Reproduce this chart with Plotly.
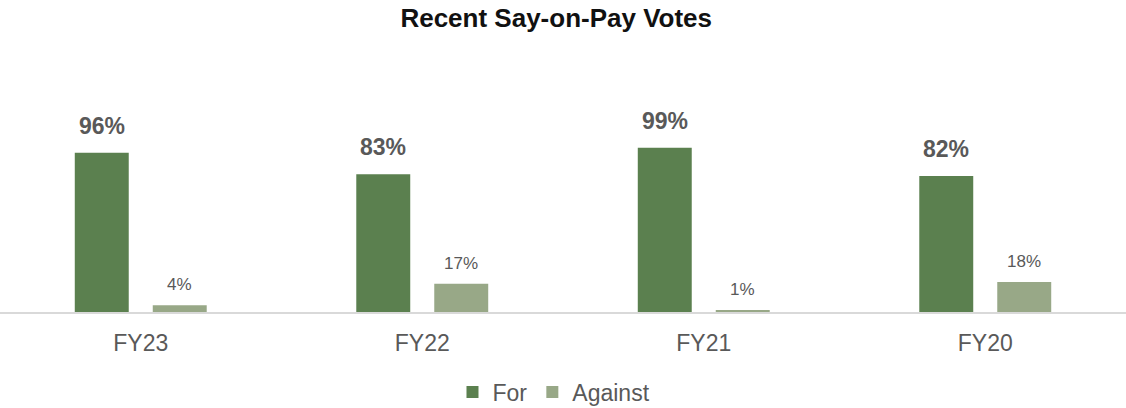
import plotly.graph_objects as go

categories = ["FY23", "FY22", "FY21", "FY20"]
for_votes = [96, 83, 99, 82]
against_votes = [4, 17, 1, 18]
for_labels = ["96%", "83%", "99%", "82%"]
against_labels = ["4%", "17%", "1%", "18%"]

FOR_COLOR = "#5B804F"
AGAINST_COLOR = "#98A887"
GREY = "#595959"
FONT = "Liberation Sans, Arial"

fig = go.Figure()
fig.add_trace(go.Bar(name="For", x=categories, y=for_votes, marker_color=FOR_COLOR,
                     marker_line_width=0))
fig.add_trace(go.Bar(name="Against", x=categories, y=against_votes, marker_color=AGAINST_COLOR,
                     marker_line_width=0))

annotations = []
for c, v, t in zip(categories, for_votes, for_labels):
    annotations.append(dict(x=c, y=v, text=f"<b>{t}</b>", xref="x", yref="y", showarrow=False,
                            xshift=-39, yshift=12, yanchor="bottom",
                            font=dict(size=23, color=GREY, family=FONT)))
for c, v, t in zip(categories, against_votes, against_labels):
    annotations.append(dict(x=c, y=v, text=t, xref="x", yref="y", showarrow=False,
                            xshift=39, yshift=9, yanchor="bottom",
                            font=dict(size=17, color=GREY, family=FONT)))

fig.update_layout(
    width=1126, height=408,
    margin=dict(l=0, r=0, t=50, b=96, autoexpand=False),
    paper_bgcolor="white", plot_bgcolor="white",
    barmode="group", bargap=0.446, bargroupgap=0.308,
    title=dict(text="<b>Recent Say-on-Pay Votes</b>", x=0.494, xanchor="center",
               y=1 - 18 / 408, yanchor="middle",
               font=dict(size=26, color="#111111", family=FONT)),
    font=dict(family=FONT, color=GREY),
    legend=dict(orientation="h", yref="container", y=1 - 392 / 408, yanchor="middle",
                x=0.492, xanchor="center", font=dict(size=23, color=GREY, family=FONT),
                itemwidth=30, traceorder="normal", tracegroupgap=0),
    annotations=annotations,
    showlegend=True,
)
fig.update_xaxes(showline=True, linecolor="#d9d9d9", linewidth=2, ticks="",
                 tickfont=dict(size=23, color=GREY, family=FONT), ticklabelstandoff=9,
                 showgrid=False, zeroline=False)
fig.update_yaxes(range=[0, 262 / 1.66], visible=False, showgrid=False, zeroline=False)

fig.write_html("out.html", config={"displayModeBar": False},
               post_script="document.body.style.margin='0px';document.body.style.overflow='hidden';")
